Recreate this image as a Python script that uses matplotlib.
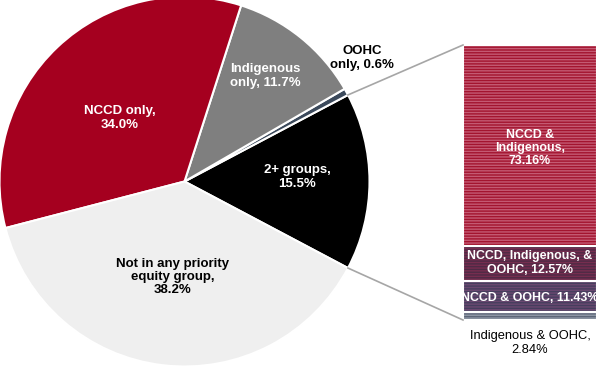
import matplotlib.pyplot as plt
import numpy as np

plt.rcParams['font.family'] = ['Liberation Sans', 'DejaVu Sans']
plt.rcParams['hatch.linewidth'] = 1.0

# pie data (counter-clockwise from the split slice)
pie_labels = ["2+ groups,\n15.5%", "OOHC\nonly, 0.6%", "Indigenous\nonly, 11.7%",
              "NCCD only,\n34.0%", "Not in any priority\nequity group,\n38.2%"]
pie_values = [15.5, 0.6, 11.7, 34.0, 38.2]
pie_colors = ["#000000", "#3C4A5C", "#7F7F7F", "#A5001F", "#EFEFEF"]
pie_text_colors = ["white", "black", "white", "white", "black"]

# breakdown of "2+ groups" (bottom to top)
bar_labels = ["Indigenous & OOHC,\n2.84%", "NCCD & OOHC, 11.43%",
              "NCCD, Indigenous, &\nOOHC, 12.57%", "NCCD &\nIndigenous,\n73.16%"]
bar_values = [2.84, 11.43, 12.57, 73.16]
bar_colors = ["#5C6577", "#463E5E", "#4E2A45", "#A3142F"]
bar_hatch_colors = ["#8F98A6", "#6A4870", "#762D4F", "#C45A73"]

W, H = 600, 367
fig = plt.figure(figsize=(6, 3.67), dpi=100)
ax = fig.add_axes([0, 0, 1, 1])

# pie
cx, cy, r = 184.5, 185.5, 185
start = -pie_values[0] / 100 * 360 / 2
ax.pie(pie_values, colors=pie_colors, startangle=start,
       counterclock=True, center=(cx, cy), radius=r, frame=True,
       wedgeprops=dict(edgecolor='white', linewidth=1.5))
ax.set_xlim(0, W)
ax.set_ylim(0, H)
ax.set_aspect('equal')
ax.axis('off')

# pie label positions (pixels from top-left)
pie_label_pos = [(297, 177), (362, 58), (265, 76), (120, 118), (173, 277)]
for lab, (x, y), c in zip(pie_labels, pie_label_pos, pie_text_colors):
    ax.text(x, H - y, lab, ha='center', va='center', color=c,
            fontsize=9.5, fontweight='bold', linespacing=1.15)

# stacked bar
bx, bw, by0, bh = 463, 134, H - 320, 275
heights = [v / 100 * bh for v in bar_values]
bottoms = np.concatenate([[by0], by0 + np.cumsum(heights)[:-1]])
for h, b, fc, hc in zip(heights, bottoms, bar_colors, bar_hatch_colors):
    ax.bar(bx, h, width=bw, bottom=b, align='edge', color=fc,
           edgecolor=hc, hatch='------', linewidth=0)
    ax.bar(bx, h, width=bw, bottom=b, align='edge', color='none',
           edgecolor='white', linewidth=1.5)

bar_label_y = [343, 298, 263, 148]
for i, (lab, y) in enumerate(zip(bar_labels, bar_label_y)):
    if i == 0:
        ax.text(bx + bw / 2, H - y, lab, ha='center', va='center', color='black',
                fontsize=9.3, linespacing=1.15)
    else:
        ax.text(bx + bw / 2, H - y, lab, ha='center', va='center', color='white',
                fontsize=8.9, fontweight='bold', linespacing=1.15)

# connector lines from the split slice to the bar
a1 = np.deg2rad(start + pie_values[0] / 100 * 360)
a0 = np.deg2rad(start)
ax.plot([cx + r * np.cos(a1), bx], [cy + r * np.sin(a1), by0 + bh],
        color='#A6A6A6', linewidth=1.2)
ax.plot([cx + r * np.cos(a0), bx], [cy + r * np.sin(a0), by0],
        color='#A6A6A6', linewidth=1.2)

fig.savefig('out.png', dpi=100)
